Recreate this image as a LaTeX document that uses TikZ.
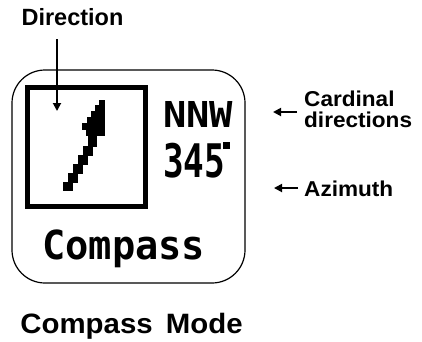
\documentclass[tikz,border=0pt]{standalone}
\usepackage{fontspec}
\setmainfont{Liberation Sans}
\newfontfamily\lblfont[FakeStretch=1.05]{Liberation Sans}
\newfontfamily\pixfont{DejaVu Sans Mono}
\usetikzlibrary{arrows.meta}
\begin{document}
\begin{tikzpicture}[x=1pt,y=-1pt,
  lbl/.style={font=\lblfont\bfseries\fontsize{21.5}{23}\selectfont, inner sep=0pt, text=black},
  ptr/.style={line width=1.8pt, -{Triangle[length=8pt,width=8pt]}},
  pix/.style={inner sep=0pt, anchor=north west},
]
\useasboundingbox (0,0) rectangle (422,341);
% device outline
\draw[line width=1.2pt, rounded corners=33pt] (12,70) rectangle (245,283);
% direction window
\draw[line width=5pt] (27.5,87.5) rectangle (145.5,206.5);
% needle (pixel staircase)
\foreach \xa/\ya/\xb/\yb in {63/182/73/191, 68/173/78/183, 73/164/83/174, 78/155/88/165, 83/146/93/156, 88/136/97/147,
  99/100/105/106, 95/105/105/112, 91/111/105/118, 87/117/105/124, 82/123/105/130, 86/129/105/136}
  \fill (\xa,\ya) rectangle (\xb,\yb);
% display texts
\node[pix] (nnw) at (163,101) {\resizebox*{70pt}{26pt}{\pixfont\bfseries NNW}};
\node[pix] (az) at (163,143) {\resizebox*{62pt}{35pt}{\pixfont\bfseries 345}};
\fill (223,142) rectangle (230,149);
\node[pix] (cmp) at (42,230) {\resizebox*{163pt}{38pt}{\pixfont\bfseries Compass}};
% labels
\node[lbl, font=\bfseries\fontsize{23.5}{25}\selectfont, anchor=base] (dir) at (72.5,25) {Direction};
\coordinate (dirstart) at (57,39);
\coordinate (dirtip) at (57,111);
\draw[ptr] (dirstart) -- (dirtip);
\node[lbl, anchor=base west] (card) at (304,106) {Cardinal};
\node[lbl, anchor=base west] (dirs) at (304,127) {directions};
\node[lbl, anchor=base west] (azl) at (304,196) {Azimuth};
\coordinate (cdtail) at (297,112);
\coordinate (cdtip) at (273,112);
\coordinate (aztail) at (298,188);
\coordinate (aztip) at (274,188);
\draw[ptr] (cdtail) -- (cdtip);
\draw[ptr] (aztail) -- (aztip);
\node[lbl, font=\lblfont\bfseries\fontsize{28}{30}\selectfont, anchor=base] (mode) at (131.5,333) {Compass\hspace{5pt} Mode};
\end{tikzpicture}
\end{document}
